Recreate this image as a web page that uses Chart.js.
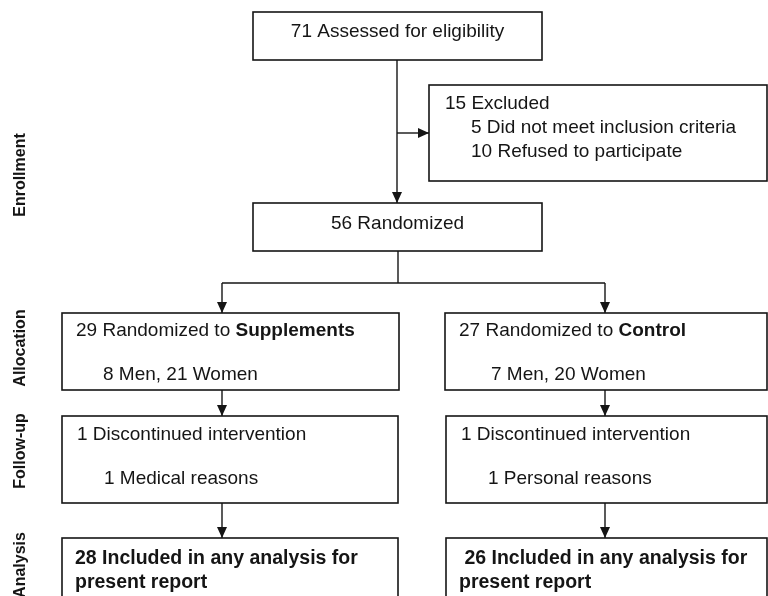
<!DOCTYPE html>
<html>
<head>
<meta charset="utf-8">
<script src="https://cdn.jsdelivr.net/npm/chart.js@4/dist/chart.umd.min.js"></script>
<style>
  html, body { margin: 0; padding: 0; background: #fff; }
  #flow { display: block; }
</style>
</head>
<body>
<canvas id="flow" width="768" height="596"></canvas>
<script>
// study counts
const stages = ['Enrollment', 'Allocation', 'Follow-up', 'Analysis'];
const assessed = 71;
const excluded = [15, 5, 10];   // total, not meeting criteria, refused
const randomized = 56;
const groups = ['Supplements', 'Control'];
const groupN = [29, 27];
const men = [8, 7];
const women = [21, 20];
const discontinued = [1, 1];
const reasons = ['Medical reasons', 'Personal reasons'];
const analysed = [28, 26];

// layout, in the units of the hidden scales (0..768 x 0..596)
const boxes = {
    assess: [253, 12, 542, 60],
    excl: [429, 85, 767, 181],
    rand: [253, 203, 542, 251],
    allocL: [62, 313, 399, 390],
    allocR: [445, 313, 767, 390],
    fuL: [62, 416, 398, 503],
    fuR: [446, 416, 767, 503],
    anL: [62, 538, 398, 640],
    anR: [446, 538, 767, 640]
};
// [x1, y1, x2, y2, arrowAtEnd]
const links = [
    [397, 60, 397, 203, true],
    [397, 133, 429, 133, true],
    [398, 251, 398, 283, false],
    [222, 283, 605, 283, false],
    [222, 283, 222, 313, true],
    [605, 283, 605, 313, true],
    [222, 390, 222, 416, true],
    [605, 390, 605, 416, true],
    [222, 503, 222, 538, true],
    [605, 503, 605, 538, true]
];
const stageY = [175, 348, 451, 565];

const FONT = "'Liberation Sans', Arial, sans-serif";
const INK = '#151515';

function px(chart, x, y) {
    return [chart.scales.x.getPixelForValue(x), chart.scales.y.getPixelForValue(y)];
}

// draws a line made of plain and bold pieces
function textRuns(ctx, x, y, runs, size) {
    let cx = x;
    runs.forEach(function (r) {
        ctx.font = (r.bold ? 'bold ' : '') + size + 'px ' + FONT;
        ctx.fillText(r.t, cx, y);
        cx += ctx.measureText(r.t).width;
    });
}

const flowPlugin = {
    id: 'flow',
    afterDatasetsDraw(chart) {
        const ctx = chart.ctx;
        ctx.save();
        ctx.strokeStyle = INK;
        ctx.fillStyle = INK;
        ctx.lineWidth = 1.6;

        Object.keys(boxes).forEach(function (k) {
            const b = boxes[k];
            const p1 = px(chart, b[0], b[1]);
            const p2 = px(chart, b[2], b[3]);
            ctx.strokeRect(p1[0], p1[1], p2[0] - p1[0], p2[1] - p1[1]);
        });

        ctx.lineWidth = 1.4;
        links.forEach(function (l) {
            const a = px(chart, l[0], l[1]);
            const b = px(chart, l[2], l[3]);
            ctx.beginPath();
            ctx.moveTo(a[0], a[1]);
            ctx.lineTo(b[0], b[1]);
            ctx.stroke();
            if (l[4]) {
                const ang = Math.atan2(b[1] - a[1], b[0] - a[0]);
                const len = 11, hw = 5;
                ctx.beginPath();
                ctx.moveTo(b[0], b[1]);
                ctx.lineTo(b[0] - len * Math.cos(ang) + hw * Math.sin(ang), b[1] - len * Math.sin(ang) - hw * Math.cos(ang));
                ctx.lineTo(b[0] - len * Math.cos(ang) - hw * Math.sin(ang), b[1] - len * Math.sin(ang) + hw * Math.cos(ang));
                ctx.closePath();
                ctx.fill();
            }
        });

        ctx.textBaseline = 'middle';
        const fs = 19;

        // top boxes
        ctx.textAlign = 'center';
        ctx.font = fs + 'px ' + FONT;
        let p = px(chart, 397.5, 32);
        ctx.fillText(assessed + ' Assessed for eligibility', p[0], p[1]);
        p = px(chart, 397.5, 224);
        ctx.fillText(randomized + ' Randomized', p[0], p[1]);

        ctx.textAlign = 'left';
        p = px(chart, 445, 104);
        ctx.fillText(excluded[0] + ' Excluded', p[0], p[1]);
        p = px(chart, 471, 128);
        ctx.fillText(excluded[1] + ' Did not meet inclusion criteria', p[0], p[1]);
        p = px(chart, 471, 152);
        ctx.fillText(excluded[2] + ' Refused to participate', p[0], p[1]);

        // the two arms
        const col = [
            { x: 76, ind: 103, xf: 77, indf: 104, xa: 75, lead: '' },
            { x: 459, ind: 491, xf: 461, indf: 488, xa: 459, lead: ' ' }
        ];
        for (let i = 0; i < 2; i++) {
            const c = col[i];
            p = px(chart, c.x, 331);
            textRuns(ctx, p[0], p[1], [{ t: groupN[i] + ' Randomized to ' }, { t: groups[i], bold: true }], fs);
            ctx.font = fs + 'px ' + FONT;
            p = px(chart, c.ind, 375);
            ctx.fillText(men[i] + ' Men, ' + women[i] + ' Women', p[0], p[1]);

            p = px(chart, c.xf, 435);
            ctx.fillText(discontinued[i] + ' Discontinued intervention', p[0], p[1]);
            p = px(chart, c.indf, 479);
            ctx.fillText(discontinued[i] + ' ' + reasons[i], p[0], p[1]);

            ctx.font = 'bold 19.5px ' + FONT;
            p = px(chart, c.xa, 559);
            ctx.fillText(c.lead + analysed[i] + ' Included in any analysis for', p[0], p[1]);
            p = px(chart, c.xa, 583);
            ctx.fillText('present report', p[0], p[1]);
        }

        // stage labels down the left side
        ctx.font = 'bold 16px ' + FONT;
        ctx.textAlign = 'center';
        stages.forEach(function (s, i) {
            const q = px(chart, 21, stageY[i]);
            ctx.save();
            ctx.translate(q[0], q[1]);
            ctx.rotate(-Math.PI / 2);
            ctx.fillText(s, 0, 0);
            ctx.restore();
        });
        ctx.restore();
    }
};

new Chart(document.getElementById('flow'), {
    type: 'scatter',
    data: { datasets: [{ data: [] }] },
    options: {
        responsive: false,
        animation: false,
        layout: { padding: 0 },
        plugins: { legend: { display: false }, tooltip: { enabled: false } },
        scales: {
            x: { type: 'linear', min: 0, max: 768, display: false },
            y: { type: 'linear', min: 0, max: 596, reverse: true, display: false }
        }
    },
    plugins: [flowPlugin]
});
</script>
</body>
</html>
